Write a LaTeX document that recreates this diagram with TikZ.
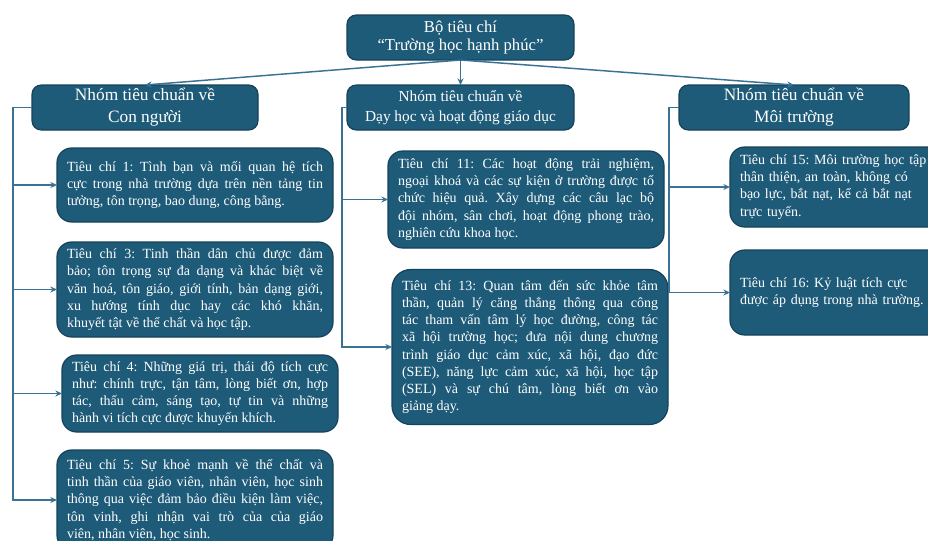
\documentclass[tikz,border=0pt]{standalone}
\usepackage{fontspec}
\setmainfont{Liberation Serif}
\usetikzlibrary{arrows.meta}
\definecolor{boxfill}{HTML}{1E5B79}
\definecolor{boxedge}{HTML}{15425A}
\definecolor{conn}{HTML}{3A7194}
\frenchspacing
\begin{document}
\begin{tikzpicture}[x=0.75pt,y=-0.75pt,
 box/.style={draw=boxedge, line width=0.9pt, fill=boxfill, text=white, rounded corners=7pt, inner sep=0pt, outer sep=0pt},
 grp/.style={box, minimum height=33.75pt, align=center, font=\fontsize{13}{16.5}\selectfont},
 crit/.style={box, rounded corners=11pt, minimum width=207pt, text width=192pt, align=justify, font=\fontsize{10.5}{12.9}\selectfont},
 link/.style={draw=conn, line width=1.1pt, -{Stealth[length=5pt,width=4.5pt]}}]
\useasboundingbox (0,0) rectangle (928,540);
\begin{scope}
\clip (0,0) rectangle (928,540);
% top
\node[grp, minimum width=170.25pt, font=\fontsize{12.5}{14}\selectfont] (top) at (460.5,37.5) {Bộ tiêu chí\\“Trường học hạnh phúc”};
% groups
\node[grp, minimum width=169.5pt] (g1) at (145,107.5) {Nhóm tiêu chuẩn về\\Con người};
\node[grp, minimum width=170.25pt, font=\fontsize{11.5}{15}\selectfont] (g2) at (460.5,107.5) {Nhóm tiêu chuẩn về\\Dạy học và hoạt động giáo dục};
\node[grp, minimum width=172.5pt] (g3) at (794,107.5) {Nhóm tiêu chuẩn về\\Môi trường};
% criteria left
\node[crit, minimum height=55.5pt] (c1) at (195,185) {Tiêu chí 1: Tình bạn và mối quan hệ tích\linebreak cực trong nhà trường dựa trên nền tảng tin\linebreak tưởng, tôn trọng, bao dung, công bằng.};
\node[crit, minimum height=71.25pt] (c3) at (195,289.5) {Tiêu chí 3: Tinh thần dân chủ được đảm\linebreak bảo; tôn trọng sự đa dạng và khác biệt về\linebreak văn hoá, tôn giáo, giới tính, bản dạng giới,\linebreak xu hướng tính dục hay các khó khăn,\linebreak khuyết tật về thể chất và học tập.};
\node[crit, minimum height=57.75pt] (c4) at (200,393.5) {Tiêu chí 4: Những giá trị, thái độ tích cực\linebreak như: chính trực, tận tâm, lòng biết ơn, hợp\linebreak tác, thấu cảm, sáng tạo, tự tin và những\linebreak hành vi tích cực được khuyến khích.};
\node[crit, minimum height=75pt] (c5) at (195,500) {Tiêu chí 5: Sự khoẻ mạnh về thể chất và\linebreak tinh thần của giáo viên, nhân viên, học sinh\linebreak thông qua việc đảm bảo điều kiện làm việc,\linebreak tôn vinh, ghi nhận vai trò của của giáo\linebreak viên, nhân viên, học sinh.};
% criteria middle
\node[crit, minimum height=72.75pt] (c11) at (526,199.5) {Tiêu chí 11: Các hoạt động trải nghiệm,\linebreak ngoại khoá và các sự kiện ở trường được tổ\linebreak chức hiệu quả. Xây dựng các câu lạc bộ\linebreak đội nhóm, sân chơi, hoạt động phong trào,\linebreak nghiên cứu khoa học.};
\node[crit, minimum height=116.25pt, rounded corners=14pt] (c13) at (530,347) {Tiêu chí 13: Quan tâm đến sức khỏe tâm\linebreak thần, quản lý căng thẳng thông qua công\linebreak tác tham vấn tâm lý học đường, công tác\linebreak xã hội trường học; đưa nội dung chương\linebreak trình giáo dục cảm xúc, xã hội, đạo đức\linebreak (SEE), năng lực cảm xúc, xã hội, học tập\linebreak (SEL) và sự chú tâm, lòng biết ơn vào\linebreak giảng dạy.};
% criteria right
\node[crit, minimum height=60pt, align=left] (c15) at (868,187) {\makebox[143pt][s]{Tiêu chí 15: Môi trường học tập}\\\makebox[143pt][s]{thân thiện, an toàn, không có}\\\makebox[143pt][s]{bạo lực, bắt nạt, kể cả bắt nạt}\\trực tuyến.};
\node[crit, minimum height=63.75pt, align=left] (c16) at (868,292.5) {\makebox[143pt][s]{Tiêu chí 16: Kỷ luật tích cực}\\được áp dụng trong nhà trường.};
% connectors from top
\draw[link] (top.south) -- (g1.north);
\draw[link] (top.south) -- (g2.north);
\draw[link] (top.south) -- (g3.north);
% trees
\coordinate (t1) at (13,107.5);
\coordinate (t2) at (342,107.5);
\coordinate (t3) at (669,107.5);
\foreach \c in {c1,c3,c4,c5} \draw[link] (g1.west) -- (t1) |- (\c.west);
\foreach \c in {c11,c13} \draw[link] (g2.west) -- (t2) |- (\c.west);
\foreach \c in {c15,c16} \draw[link] (g3.west) -- (t3) |- (\c.west);
\end{scope}
\end{tikzpicture}
\end{document}
